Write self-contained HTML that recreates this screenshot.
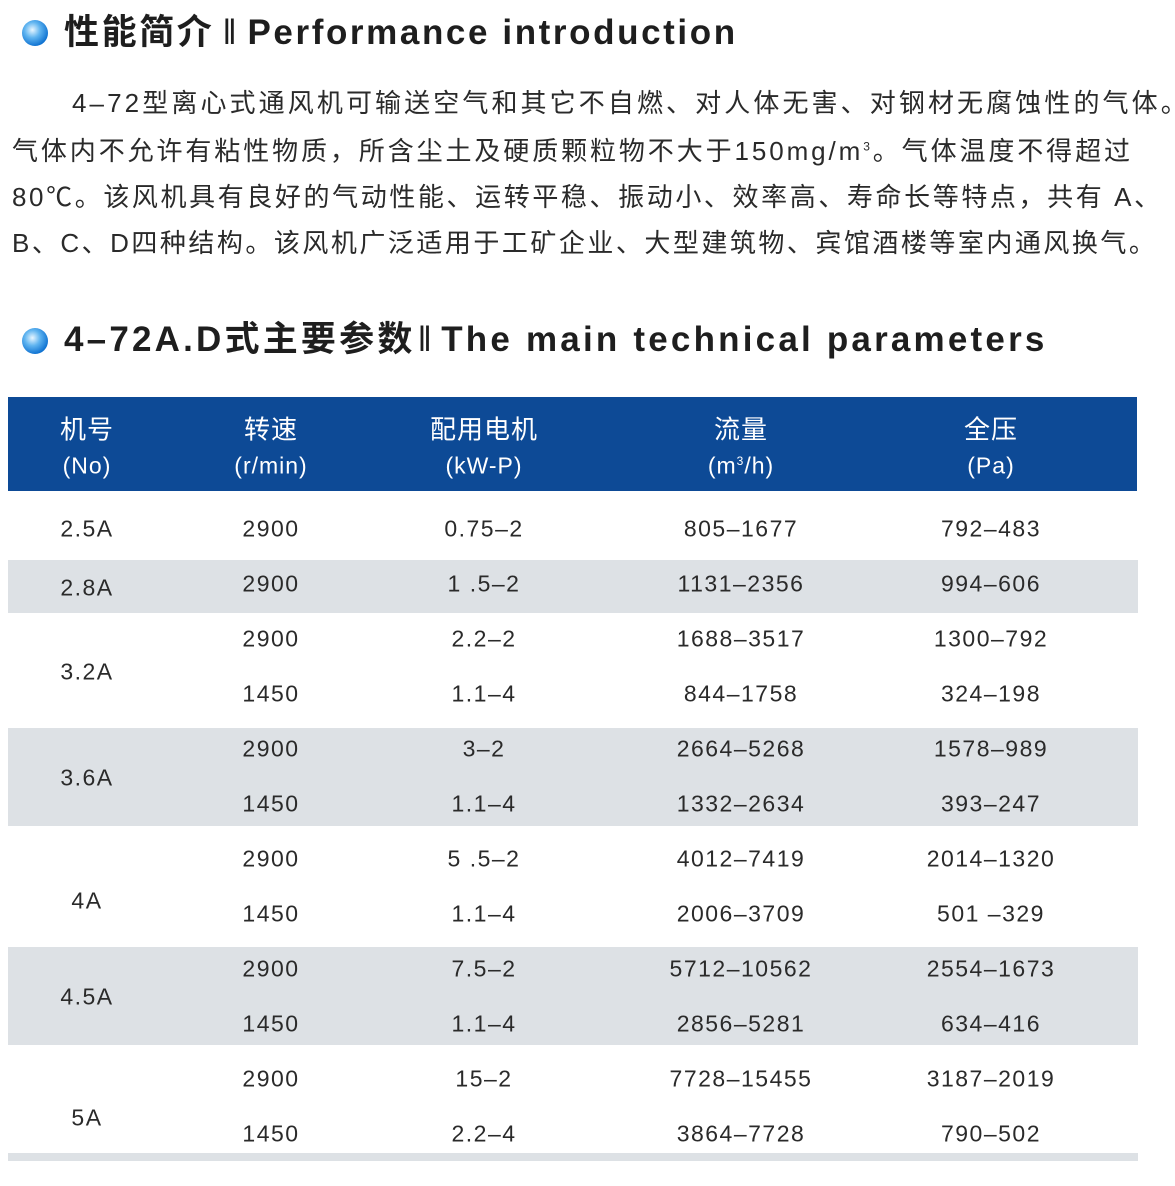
<!DOCTYPE html>
<html><head><meta charset="utf-8"><style>
body{margin:0;width:1175px;height:1186px;background:#fff;position:relative;overflow:hidden;font-family:"Liberation Sans","Noto Sans CJK SC",sans-serif;color:#2a2a2a}
.a{position:absolute;white-space:nowrap}
.dot{position:absolute;width:26px;height:26px;border-radius:50%;background:radial-gradient(circle at 40% 38%,#e8f6ff 0%,#5fb4f0 35%,#0b6fd0 75%,#0a4fa8 100%)}
.h{font-weight:bold;font-size:35px;color:#1e1e1e;line-height:1}
.p{font-size:26px;line-height:1;color:#2a2a2a}
.hd{position:absolute;left:8px;top:397px;width:1129px;height:94px;background:#0d4a96}
.band{position:absolute;left:8px;width:1130px;background:#dde1e5}
.c{position:absolute;transform:translate(-50%,-50%);font-size:23px;white-space:nowrap;color:#2a2a2a;letter-spacing:1.5px}
.w{color:#fff;letter-spacing:1px}
.bar{font-weight:normal;margin:0 8px}
</style></head><body>
<div class="dot" style="left:22px;top:20px"></div>
<div class="a h" style="left:64px;top:15px;letter-spacing:2.6px">性能简介<span class="bar">‖</span>Performance introduction</div>
<div class="a p" style="left:72px;top:90px;letter-spacing:3.1px">4–72型离心式通风机可输送空气和其它不自燃、对人体无害、对钢材无腐蚀性的气体。</div>
<div class="a p" style="left:12px;top:138px;letter-spacing:2.9px">气体内不允许有粘性物质，所含尘土及硬质颗粒物不大于150mg/m<sup style="font-size:12px">3</sup>。气体温度不得超过</div>
<div class="a p" style="left:12px;top:184px;letter-spacing:2.6px">80℃。该风机具有良好的气动性能、运转平稳、振动小、效率高、寿命长等特点，共有 A、</div>
<div class="a p" style="left:12px;top:230px;letter-spacing:2.5px">B、C、D四种结构。该风机广泛适用于工矿企业、大型建筑物、宾馆酒楼等室内通风换气。</div>
<div class="dot" style="left:22px;top:328px"></div>
<div class="a h" style="left:64px;top:322px;letter-spacing:3.2px">4–72A.D式主要参数<span class="bar" style="margin:0 6px 0 2px">‖</span>The main technical parameters</div>
<div class="hd"></div>
<div class="c w" style="left:87px;top:428px;font-size:26px">机号</div>
<div class="c w" style="left:87px;top:466px">(No)</div>
<div class="c w" style="left:271px;top:428px;font-size:26px">转速</div>
<div class="c w" style="left:271px;top:466px">(r/min)</div>
<div class="c w" style="left:484px;top:428px;font-size:26px">配用电机</div>
<div class="c w" style="left:484px;top:466px">(kW-P)</div>
<div class="c w" style="left:741px;top:428px;font-size:26px">流量</div>
<div class="c w" style="left:741px;top:466px">(m<sup style="font-size:12px">3</sup>/h)</div>
<div class="c w" style="left:991px;top:428px;font-size:26px">全压</div>
<div class="c w" style="left:991px;top:466px">(Pa)</div>
<div class="band" style="top:560px;height:53px"></div>
<div class="band" style="top:728px;height:98px"></div>
<div class="band" style="top:947px;height:98px"></div>
<div class="band" style="top:1153px;height:8px"></div>
<div class="c" style="left:87px;top:529px">2.5A</div>
<div class="c" style="left:87px;top:588px">2.8A</div>
<div class="c" style="left:87px;top:672px">3.2A</div>
<div class="c" style="left:87px;top:778px">3.6A</div>
<div class="c" style="left:87px;top:901px">4A</div>
<div class="c" style="left:87px;top:997px">4.5A</div>
<div class="c" style="left:87px;top:1118px">5A</div>
<div class="c" style="left:271px;top:529px">2900</div><div class="c" style="left:484px;top:529px">0.75–2</div><div class="c" style="left:741px;top:529px">805–1677</div><div class="c" style="left:991px;top:529px">792–483</div>
<div class="c" style="left:271px;top:584px">2900</div><div class="c" style="left:484px;top:584px">1 .5–2</div><div class="c" style="left:741px;top:584px">1131–2356</div><div class="c" style="left:991px;top:584px">994–606</div>
<div class="c" style="left:271px;top:639px">2900</div><div class="c" style="left:484px;top:639px">2.2–2</div><div class="c" style="left:741px;top:639px">1688–3517</div><div class="c" style="left:991px;top:639px">1300–792</div>
<div class="c" style="left:271px;top:694px">1450</div><div class="c" style="left:484px;top:694px">1.1–4</div><div class="c" style="left:741px;top:694px">844–1758</div><div class="c" style="left:991px;top:694px">324–198</div>
<div class="c" style="left:271px;top:749px">2900</div><div class="c" style="left:484px;top:749px">3–2</div><div class="c" style="left:741px;top:749px">2664–5268</div><div class="c" style="left:991px;top:749px">1578–989</div>
<div class="c" style="left:271px;top:804px">1450</div><div class="c" style="left:484px;top:804px">1.1–4</div><div class="c" style="left:741px;top:804px">1332–2634</div><div class="c" style="left:991px;top:804px">393–247</div>
<div class="c" style="left:271px;top:859px">2900</div><div class="c" style="left:484px;top:859px">5 .5–2</div><div class="c" style="left:741px;top:859px">4012–7419</div><div class="c" style="left:991px;top:859px">2014–1320</div>
<div class="c" style="left:271px;top:914px">1450</div><div class="c" style="left:484px;top:914px">1.1–4</div><div class="c" style="left:741px;top:914px">2006–3709</div><div class="c" style="left:991px;top:914px">501 –329</div>
<div class="c" style="left:271px;top:969px">2900</div><div class="c" style="left:484px;top:969px">7.5–2</div><div class="c" style="left:741px;top:969px">5712–10562</div><div class="c" style="left:991px;top:969px">2554–1673</div>
<div class="c" style="left:271px;top:1024px">1450</div><div class="c" style="left:484px;top:1024px">1.1–4</div><div class="c" style="left:741px;top:1024px">2856–5281</div><div class="c" style="left:991px;top:1024px">634–416</div>
<div class="c" style="left:271px;top:1079px">2900</div><div class="c" style="left:484px;top:1079px">15–2</div><div class="c" style="left:741px;top:1079px">7728–15455</div><div class="c" style="left:991px;top:1079px">3187–2019</div>
<div class="c" style="left:271px;top:1134px">1450</div><div class="c" style="left:484px;top:1134px">2.2–4</div><div class="c" style="left:741px;top:1134px">3864–7728</div><div class="c" style="left:991px;top:1134px">790–502</div>
</body></html>
